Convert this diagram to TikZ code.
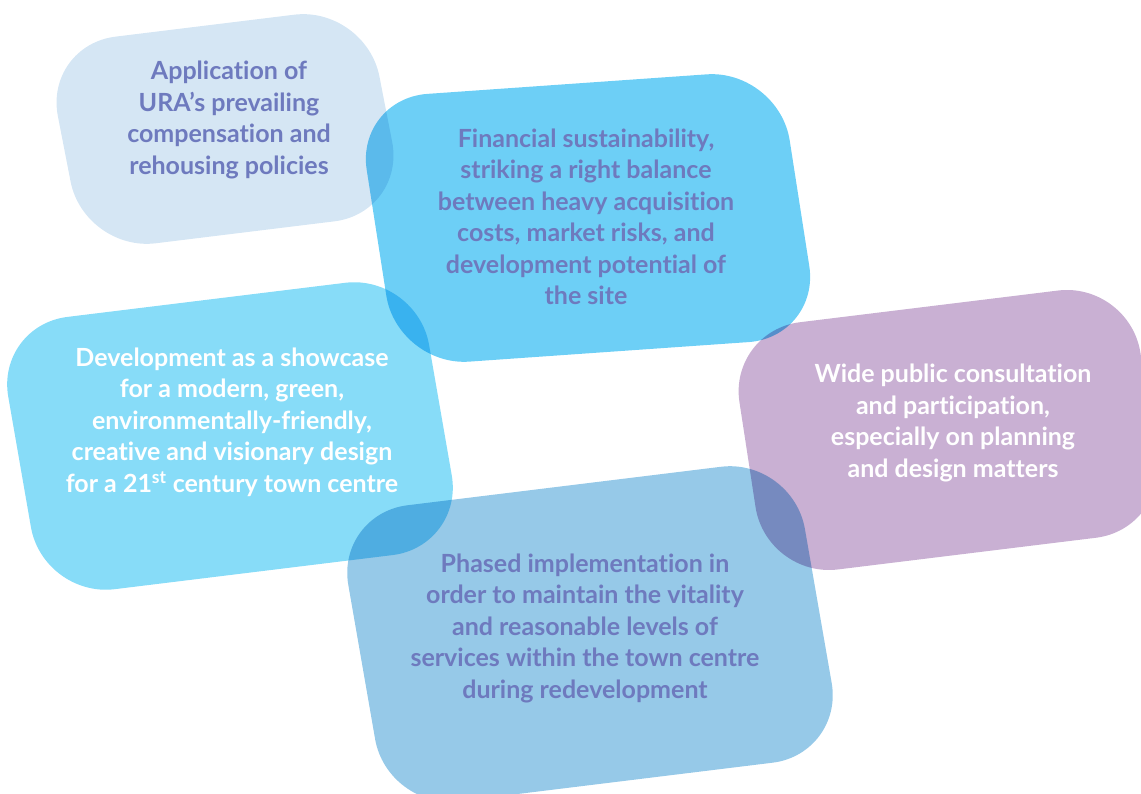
\documentclass[tikz,border=0pt]{standalone}
\usepackage{fontspec}
\setmainfont{Lato}[Ligatures=CommonOff]
\usepackage{tikz}
\usetikzlibrary{positioning}
\definecolor{urapale}{RGB}{213,230,244}
\definecolor{urasky}{RGB}{109,207,246}
\definecolor{uralight}{RGB}{135,220,248}
\definecolor{uralilac}{RGB}{201,176,211}
\definecolor{urasteel}{RGB}{150,201,232}
\definecolor{uratext}{RGB}{110,122,190}
\tikzstyle{blob} = [rounded corners=72]
\tikzstyle{pointtext} = [align=center, font=\bfseries\fontsize{25}{31.5}\selectfont, text=uratext]
\tikzstyle{pointwhite} = [pointtext, text=white]

\begin{document}
\begin{tikzpicture}[x=1pt,y=1pt]
\clip (0,0) rectangle (1141,794);

% Blob centres
\coordinate (apply) at (225,665);
\coordinate (finance) at (588,576);
\coordinate (showcase) at (230,358);
\coordinate (consult) at (948,364);
\coordinate (phased) at (590,160);

% Blobs, multiplied where they overlap
\begin{scope}[blend group=multiply]
\fill[blob, urapale, shift={(apply)}, rotate=7, xslant=-0.07] (-162,-105) rectangle (162,105);
\fill[blob, urasky, shift={(finance)}, rotate=4, xslant=-0.085] (-212,-135) rectangle (212,135);
\fill[blob, uralight, shift={(showcase)}, rotate=7, xslant=-0.05] (-212,-138) rectangle (212,138);
\fill[blob, uralilac, shift={(consult)}, rotate=7, xslant=-0.03] (-202,-125) rectangle (202,125);
\fill[blob, urasteel, shift={(phased)}, rotate=7, xslant=-0.05] (-230,-150) rectangle (230,150);
\end{scope}

% Texts
\node (applytext) [pointtext] at (229,674) {Application of\\URA’s prevailing\\compensation and\\rehousing policies};
\node (financetext) [pointtext] at (586,577) {Financial sustainability,\\striking a right balance\\between heavy acquisition\\costs, market risks, and\\development potential of\\the site};
\node (showcasetext) [pointwhite] at (232,372) {Development as a showcase\\for a modern, green,\\environmentally-friendly,\\creative and visionary design\\for a 21\textsuperscript{st} century town centre};
\node (consulttext) [pointwhite] at (953,371) {Wide public consultation\\and participation,\\especially on planning\\and design matters};
\node (phasedtext) [pointtext] at (585,166) {Phased implementation in\\order to maintain the vitality\\and reasonable levels of\\services within the town centre\\during redevelopment};
\end{tikzpicture}
\end{document}
